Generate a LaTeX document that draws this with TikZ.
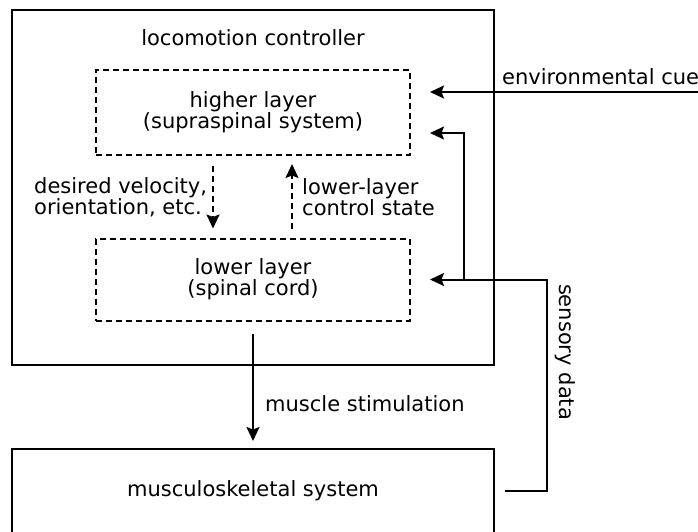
\documentclass[tikz,border=0pt]{standalone}
\usepackage{fontspec}
\setmainfont{DejaVu Sans}
\usetikzlibrary{arrows.meta}
\begin{document}
\begin{tikzpicture}[x=1pt,y=-1pt,
  every node/.style={font=\fontsize{21}{20}\selectfont},
  box/.style={draw, line width=2pt, inner sep=0pt},
  layer/.style={draw, line width=2pt, dash pattern=on 6pt off 4pt, inner sep=0pt, align=center},
  conn/.style={line width=2pt, -{Stealth[length=14pt,width=13pt,inset=2.5pt]}},
  dconn/.style={conn, dash pattern=on 6pt off 4pt},
  lbl/.style={align=left, inner sep=0pt}]
\useasboundingbox (0,0) rectangle (698,531);

% boxes
\node[box, minimum width=482pt, minimum height=355pt] (ctrl) at (253,187.5) {};
\node (title) at (253,38) {locomotion controller};
\node[layer, minimum width=314pt, minimum height=85pt] (hi) at (253,112.5) {higher layer\\(supraspinal system)};
\node[layer, minimum width=314pt, minimum height=82pt] (lo) at (253,279.5) {lower layer\\(spinal cord)};
\node[box, minimum width=482pt, minimum height=84pt] (musc) at (253,491) {musculoskeletal system};

% inputs of the higher layer
\path (hi.east) ++(0,-20.5) coordinate (hiin1) ++(0,41) coordinate (hiin2);
\coordinate (envsrc) at (698,92);

% connectors
\draw[dconn, shorten <=10pt, shorten >=9pt] ([xshift=-40pt]hi.south) -- ([xshift=-40pt]lo.north);
\draw[dconn, shorten <=9pt, shorten >=8pt] ([xshift=39pt]lo.north) -- ([xshift=39pt]hi.south);
\draw[conn, shorten <=12pt, shorten >=7pt] (lo.south) -- (musc.north);
\draw[conn, shorten >=19pt] (envsrc) -- (hiin1);
\draw[conn, shorten <=10pt, shorten >=19pt] (musc.east) -- ++(52,0) |- (lo.east);
\path (lo.east) ++(53,0) coordinate (branch);
\draw[conn, shorten >=19pt] (branch) |- (hiin2);

% labels
\node[lbl, anchor=west] (desired) at (34,197) {desired velocity,\\orientation, etc.};
\node[lbl, anchor=west] (state) at (302,197) {lower-layer\\control state};
\node[lbl, anchor=west] (stim) at (265,404) {muscle stimulation};
\node[lbl, anchor=west] (env) at (502,77) {environmental cue};
\node[lbl, rotate=-90] (sens) at (565,352) {sensory data};
\end{tikzpicture}
\end{document}
